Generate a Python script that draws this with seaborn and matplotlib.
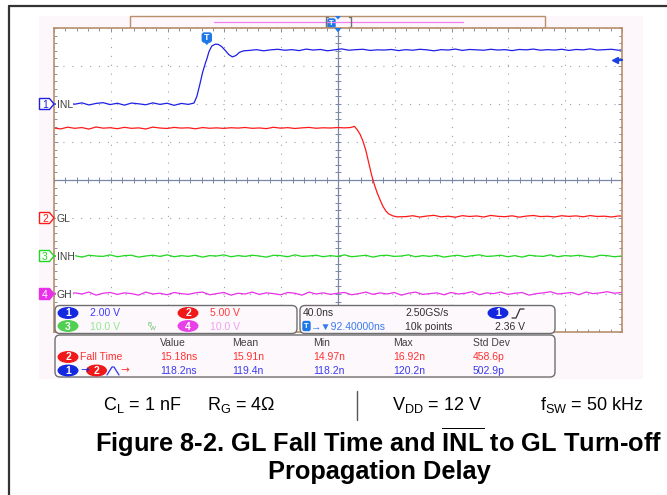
import numpy as np
import pandas as pd
import seaborn as sns
import matplotlib.pyplot as plt
from matplotlib.patches import Rectangle, FancyBboxPatch, Ellipse, Polygon

# scope setup
channels = ["INL", "GL", "INH", "GH"]
volts_per_div = [2.0, 5.0, 10.0, 10.0]
offset_div = [2.0, -1.0, -2.0, -3.0]
trace_colors = ["#1f1fe6", "#ff1a1a", "#1fd81f", "#e830e8"]
ns_per_div = 40.0
center_delay = 92.4  # ns from trigger to screen centre

# ch1 INL (ns, V)
inl_t_pre = np.arange(-108, -9, 5)
inl_v_pre = [0.02, -0.04, 0.05, -0.01, 0.06, -0.05, 0.03, 0.07, -0.03, 0.04,
             -0.06, 0.05, 0.01, -0.04, 0.06, -0.02, 0.04, -0.07, 0.03, -0.02]
inl_t_edge = [-9, -7, -5, -3, -1, 0, 1.5, 3.5, 6, 8, 10.5, 13, 15.5, 18, 20.5, 23, 26]
inl_v_edge = [0.05, 0.4, 1.0, 1.65, 2.15, 2.36, 2.75, 3.05, 3.15, 3.14, 3.02, 2.82,
              2.6, 2.48, 2.55, 2.72, 2.8]
inl_t_post = np.arange(30, 296, 5)
inl_v_post = [2.82, 2.86, 2.80, 2.85, 2.88, 2.83, 2.86, 2.81, 2.89, 2.84, 2.87, 2.80, 2.85, 2.90, 2.83, 2.86, 2.88, 2.82, 2.85, 2.84,
              2.87, 2.81, 2.86, 2.83, 2.88, 2.85, 2.80, 2.86, 2.84, 2.89, 2.82, 2.87, 2.85, 2.83, 2.88, 2.84, 2.86, 2.81, 2.87, 2.85,
              2.89, 2.83, 2.86, 2.84, 2.88, 2.82, 2.87, 2.85, 2.90, 2.84, 2.86, 2.88, 2.83, 2.87]

# ch2 GL
gl_t_pre = np.arange(-108, 101, 5)
gl_v_pre = [11.85, 11.72, 11.95, 11.80, 11.90, 11.70, 11.98, 11.82, 11.88, 11.75, 11.93, 11.80, 11.86, 11.71, 11.96, 11.84, 11.78, 11.92, 11.83, 11.87,
            11.74, 11.90, 11.81, 11.86, 11.79, 11.88, 11.83, 11.91, 11.80, 11.85, 11.76, 11.94, 11.82, 11.89, 11.78, 11.86, 11.92, 11.81, 11.87, 11.84,
            11.90, 11.86]
gl_t_edge = [101, 104, 106, 108, 110, 112, 114, 116, 118, 120, 122, 124, 126, 128, 131, 134]
gl_v_edge = [11.9, 12.05, 11.6, 11.0, 10.1, 8.9, 7.3, 5.7, 4.4, 3.3, 2.4, 1.55, 0.95, 0.55, 0.28, 0.15]
gl_t_post = np.arange(140, 296, 5)
gl_v_post = [0.18, 0.30, 0.12, 0.26, 0.35, 0.15, 0.24, 0.10, 0.31, 0.20, 0.27, 0.13, 0.34, 0.22, 0.17, 0.29, 0.11, 0.25, 0.33, 0.19,
             0.23, 0.14, 0.30, 0.21, 0.28, 0.16, 0.32, 0.20, 0.24, 0.13, 0.27, 0.22]

# ch3 INH, ch4 GH
flat_t = np.arange(-108, 296, 5)
inh_v = [0.0, 0.2, -0.2, 0.1, -0.3, 0.2, 0.0, -0.1, 0.3, -0.2, 0.1, 0.2, -0.3, 0.0, 0.2, -0.1, 0.3, -0.2, 0.1, -0.1,
         0.2, -0.3, 0.1, 0.0, 0.3, -0.2, 0.1, -0.1, 0.2, 0.0, -0.3, 0.2, 0.1, -0.2, 0.3, -0.1, 0.0, 0.2, -0.2, 0.1,
         -0.1, 0.3, -0.2, 0.0, 0.2, -0.3, 0.1, 0.2, -0.1, 0.0, 0.3, -0.2, 0.1, -0.1, 0.2, -0.3, 0.0, 0.2, -0.2, 0.1,
         0.3, -0.1, 0.0, 0.2, -0.2, 0.1, -0.3, 0.2, 0.0, -0.1, 0.3, -0.2, 0.1, 0.0, 0.2, -0.1, -0.3, 0.2, 0.1, -0.2,
         0.0]
gh_v = [0.1, 0.4, -0.2, 0.3, 0.0, 0.5, -0.3, 0.2, 0.4, -0.1, 0.3, 0.1, -0.3, 0.5, 0.0, 0.2, -0.2, 0.4, 0.1, -0.1,
        0.3, 0.5, -0.2, 0.1, 0.4, -0.3, 0.2, 0.0, 0.5, -0.1, 0.3, 0.1, -0.2, 0.4, 0.2, -0.3, 0.5, 0.0, 0.3, -0.1,
        0.2, 0.4, -0.2, 0.1, 0.5, -0.1, 0.3, 0.0, 0.4, -0.3, 0.2, 0.5, -0.1, 0.1, 0.3, -0.2, 0.4, 0.0, 0.2, 0.6,
        -0.2, 0.3, 0.1, 0.5, -0.1, 0.2, 0.4, -0.3, 0.1, 0.3, 0.6, 0.0, 0.2, 0.4, -0.2, 0.5, 0.1, 0.3, 0.6, 0.2,
        0.4]

# measurement readout
meas_cols = ["Value", "Mean", "Min", "Max", "Std Dev"]
fall_time = ["15.18ns", "15.91n", "14.97n", "16.92n", "458.6p"]
prop_delay = ["118.2ns", "119.4n", "118.2n", "120.2n", "502.9p"]

traces = {
    "INL": (list(inl_t_pre) + inl_t_edge + list(inl_t_post), inl_v_pre + inl_v_edge + inl_v_post),
    "GL": (list(gl_t_pre) + gl_t_edge + list(gl_t_post), gl_v_pre + gl_v_edge + gl_v_post),
    "INH": (list(flat_t), inh_v),
    "GH": (list(flat_t), gh_v),
}
frames = []
for name, vpd, off in zip(channels, volts_per_div, offset_div):
    t, v = traces[name]
    d = pd.DataFrame({"t": t, "v": v, "channel": name})
    d["div"] = off + d["v"] / vpd
    frames.append(d)
df = pd.concat(frames, ignore_index=True)

sns.set_style("ticks")
plt.rcParams["font.family"] = ["Liberation Sans", "DejaVu Sans"]
plt.rcParams["mathtext.fontset"] = "custom"
plt.rcParams["mathtext.rm"] = "Liberation Sans"
plt.rcParams["mathtext.bf"] = "Liberation Sans:bold"

fig = plt.figure(figsize=(6.67, 4.95), dpi=100, facecolor="white")
W, H = 667, 495

bg = fig.add_axes([0, 0, 1, 1], zorder=0)
bg.set_xlim(0, W); bg.set_ylim(H, 0); bg.axis("off")
fg = fig.add_axes([0, 0, 1, 1], zorder=2)
fg.set_xlim(0, W); fg.set_ylim(H, 0); fg.axis("off")
fg.patch.set_visible(False)

tan = "#b8906c"
pink_bg = "#fdf6fb"

# page border + screen background
bg.plot([9, W], [6, 6], color="#333333", lw=1.6)
bg.plot([9, 9], [6, H], color="#333333", lw=1.6)
bg.add_patch(Rectangle((39, 16), 604, 363, facecolor=pink_bg, edgecolor="none"))

# graticule
x0, y0, x1, y1 = 54, 28, 622, 332
ax = fig.add_axes([x0 / W, 1 - y1 / H, (x1 - x0) / W, (y1 - y0) / H], zorder=1)
ax.set_facecolor("white")
sns.lineplot(data=df, x="t", y="div", hue="channel", palette=dict(zip(channels, trace_colors)),
             estimator=None, sort=False, legend=False, linewidth=0.9, ax=ax)
xmin, xmax = center_delay - 5 * ns_per_div, center_delay + 5 * ns_per_div
ax.set_xlim(xmin, xmax)
ax.set_ylim(-4, 4)
ax.set_xticks(center_delay + ns_per_div * np.arange(-5, 6))
ax.set_xticks(center_delay + ns_per_div / 5 * np.arange(-25, 26), minor=True)
ax.set_yticks(np.arange(-4, 5))
ax.set_yticks(np.arange(-20, 21) / 5, minor=True)
ax.set_xticklabels([]); ax.set_yticklabels([])
ax.set_xlabel(""); ax.set_ylabel("")
ax.tick_params(which="both", direction="in", top=True, right=True, color="#8890a8", width=0.7)
ax.tick_params(which="major", length=3)
ax.tick_params(which="minor", length=2.2)
ax.grid(which="major", color="#9aa0b4", linestyle=(0, (1, 7)), linewidth=0.8)
ax.set_axisbelow(True)
ax.axvline(center_delay, color="#7a88a8", lw=0.9, zorder=1)
ax.axhline(0, color="#7a88a8", lw=0.9, zorder=1)
ax.plot(center_delay + ns_per_div / 5 * np.arange(-25, 26), np.zeros(51), ls="none", marker="|",
        ms=4, mew=0.7, color="#7a88a8", zorder=1)
ax.plot(np.full(41, center_delay), np.arange(-20, 21) / 5, ls="none", marker="_",
        ms=4, mew=0.7, color="#7a88a8", zorder=1)
for s in ax.spines.values():
    s.set_color(tan); s.set_linewidth(1.2)

# record overview bar on top
bg.add_patch(Rectangle((130, 16), 415, 12, facecolor=pink_bg, edgecolor=tan, lw=1))
bg.plot([214, 463], [21.5, 21.5], color="#f080f0", lw=0.9)
bg.plot([328, 326, 326, 328], [17, 17, 27, 27], color="#707070", lw=1)
bg.plot([349, 351, 351, 349], [17, 17, 27, 27], color="#707070", lw=1)
bg.add_patch(FancyBboxPatch((328, 19), 7, 9, boxstyle="round,pad=0,rounding_size=1.5",
                            facecolor="#1e78e8", edgecolor="#1e78e8"))
bg.text(331.5, 23.8, "T", color="white", fontsize=5.5, ha="center", va="center", weight="bold")
bg.add_patch(Polygon([(335, 16), (341, 16), (338, 19.5)], facecolor="#1e78e8", edgecolor="none"))
fg.add_patch(Polygon([(334.5, 28), (341.5, 28), (338, 32.5)], facecolor="#1e78e8", edgecolor="none"))

blue_ui = "#1e78e8"
# trigger point marker and trigger level arrow
trig_x = x0 + (0 - xmin) / (xmax - xmin) * (x1 - x0)
fg.add_patch(FancyBboxPatch((trig_x - 4.5, 33), 9, 9, boxstyle="round,pad=0,rounding_size=2",
                            facecolor=blue_ui, edgecolor=blue_ui))
fg.add_patch(Polygon([(trig_x - 3, 42), (trig_x + 3, 42), (trig_x, 45)], facecolor=blue_ui, edgecolor="none"))
fg.text(trig_x, 37.8, "T", color="white", fontsize=6.5, ha="center", va="center", weight="bold")
fg.plot([615, 621.5], [60, 60], color="#1a40e0", lw=1.6)
fg.plot([615], [60], marker="<", ms=5, color="#1a40e0")

# channel tags
tag_fill = [False, False, False, True]
for name, off, col, filled in zip(channels, offset_div, trace_colors, tag_fill):
    yy = (y0 + y1) / 2 - off * (y1 - y0) / 8
    fg.add_patch(Polygon([(39.5, yy - 5.5), (49.5, yy - 5.5), (54, yy), (49.5, yy + 5.5), (39.5, yy + 5.5)],
                         facecolor=col if filled else "white", edgecolor=col, lw=1))
    fg.text(45, yy + 0.5, str(channels.index(name) + 1), color="white" if filled else col,
            fontsize=7.5, ha="center", va="center")
    fg.text(56.5, yy + 0.5, name, color="#404040", fontsize=7.5, ha="left", va="center",
            bbox=dict(facecolor="white", edgecolor="none", pad=0.6))

# readout boxes
box_fc = "#fdf8fc"
for (bx, by, bw, bh) in [(55, 305.5, 242, 28), (300, 305.5, 255, 28), (55, 335, 500, 42)]:
    fg.add_patch(FancyBboxPatch((bx, by), bw, bh, boxstyle="round,pad=0,rounding_size=5",
                                facecolor=box_fc, edgecolor="#6e6e6e", lw=1))


def badge(x, y, txt, col):
    fg.add_patch(Ellipse((x, y), 19.5, 10.5, facecolor=col, edgecolor=col))
    fg.text(x, y + 0.5, txt, color="white", fontsize=7.5, ha="center", va="center", weight="bold")


fs = 7.5
ch_badge = ["#1428e0", "#f01818", "#50d050", "#e840e8"]
ch_text = ["#3c3cff", "#ff3c3c", "#90e890", "#f0a0f0"]
ch_scale = ["2.00 V", "5.00 V", "10.0 V", "10.0 V"]
for i, (bxp, byp) in enumerate([(68, 313), (188, 313), (68, 326), (188, 326)]):
    badge(bxp, byp, str(i + 1), ch_badge[i])
    fg.text(bxp + 22, byp + 0.5, ch_scale[i], color=ch_text[i], fontsize=fs, ha="left", va="center")
fg.text(147, 325, "B", color="#60c060", fontsize=4.5, ha="left", va="center")
fg.text(150, 328, "W", color="#60c060", fontsize=4.5, ha="left", va="center")

dark = "#303030"
fg.text(303, 313.5, "40.0ns", color=dark, fontsize=fs, ha="left", va="center")
fg.text(405, 313.5, "2.50GS/s", color=dark, fontsize=fs, ha="left", va="center")
badge(498, 313, "1", ch_badge[0])
fg.plot([512, 516, 520, 524], [318, 318, 309, 309], color=dark, lw=0.9)
fg.add_patch(FancyBboxPatch((303, 321.5), 7, 9, boxstyle="round,pad=0,rounding_size=1.5",
                            facecolor=blue_ui, edgecolor=blue_ui))
fg.text(306.5, 326.3, "T", color="white", fontsize=5.5, ha="center", va="center", weight="bold")
fg.text(310.5, 326.5, "→▼92.40000ns", color="#3a7af0", fontsize=fs, ha="left", va="center")
fg.text(405, 326.5, "10k points", color=dark, fontsize=fs, ha="left", va="center")
fg.text(495, 326.5, "2.36 V", color=dark, fontsize=fs, ha="left", va="center")

col_x = [160, 232, 313, 393, 473]
for cx, lab, a, b in zip(col_x, meas_cols, fall_time, prop_delay):
    fg.text(cx, 343.5, lab, color="#404040", fontsize=fs, ha="left", va="center")
    fg.text(cx, 357, a, color="#ff3030", fontsize=fs, ha="left", va="center")
    fg.text(cx, 370.5, b, color="#3a3aee", fontsize=fs, ha="left", va="center")
badge(68, 357, "2", ch_badge[1])
fg.text(80, 357, "Fall Time", color="#ff3030", fontsize=fs, ha="left", va="center")
badge(68, 370.5, "1", ch_badge[0])
fg.text(80, 370.5, "→", color="#1428e0", fontsize=fs, ha="left", va="center", family="DejaVu Sans")
badge(96.5, 370.5, "2", ch_badge[1])
fg.plot([107, 112, 114, 119], [375, 367, 367, 375], color="#2a3ae8", lw=0.9)
fg.text(120, 370.5, "→", color="#ff3030", fontsize=fs, ha="left", va="center", family="DejaVu Sans")

# caption
cap = dict(fontsize=13, color="black", va="center", ha="left")
fg.text(103, 405, r"C$_\mathregular{L}$ = 1 nF", **cap)
fg.text(207, 405, r"R$_\mathregular{G}$ = 4Ω", **cap)
fg.plot([357, 357], [391, 420], color="#555555", lw=1)
fg.text(392, 405, r"V$_\mathregular{DD}$ = 12 V", **cap)
fg.text(540, 405, r"f$_\mathregular{SW}$ = 50 kHz", **cap)
fg.text(379, 442, r"Figure 8-2. GL Fall Time and $\overline{\mathbf{INL}}$ to GL Turn-off",
        fontsize=18.3, weight="bold", color="black", ha="center", va="center")
fg.text(379, 472, "Propagation Delay", fontsize=18.3, weight="bold", color="black",
        ha="center", va="center")

fig.savefig("out.png", dpi=100)
